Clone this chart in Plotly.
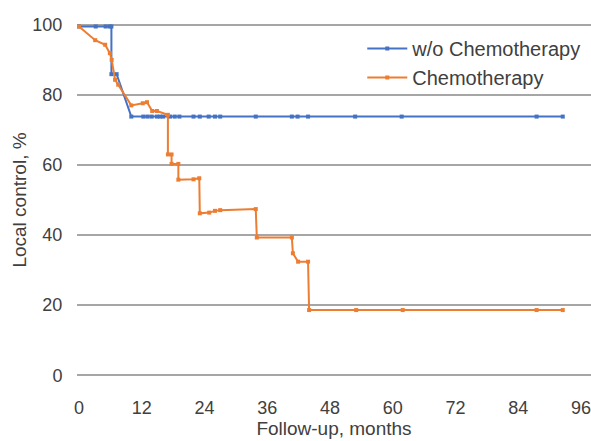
import plotly.graph_objects as go

# Follow-up (months) and local control (%)
wo_months = [0, 3.2, 5.1, 5.9, 6.2, 6.2, 7.2, 10.0, 12.3, 13.1, 13.9, 14.9, 15.5, 16.1,
             17.4, 18.3, 19.2, 21.9, 23.1, 24.8, 26.0, 27.0, 33.8, 40.7, 41.8, 43.8,
             52.8, 61.7, 87.5, 92.5]
wo_lc = [99.5, 99.5, 99.5, 99.5, 99.5, 85.9, 85.9, 73.8, 73.8, 73.8, 73.8, 73.8, 73.8, 73.8,
         73.8, 73.8, 73.8, 73.8, 73.8, 73.8, 73.8, 73.8, 73.8, 73.8, 73.8, 73.8,
         73.8, 73.8, 73.8, 73.8]

ch_months = [0, 3.1, 5.0, 5.9, 6.25, 6.9, 7.5, 10.0, 12.2, 13.0, 14.0, 14.9, 17.0, 17.0,
             17.7, 17.7, 19.0, 19.0, 21.9, 23.0, 23.1, 24.9, 26.0, 27.0, 33.8, 34.0,
             40.7, 40.9, 41.9, 43.8, 44.0, 53.0, 61.9, 87.5, 92.5]
ch_lc = [99.5, 95.6, 94.3, 91.9, 90.0, 84.3, 82.9, 77.0, 77.6, 77.9, 75.4, 75.4, 74.3, 63.0,
         63.0, 60.3, 60.3, 55.8, 55.9, 56.2, 46.2, 46.4, 46.9, 47.1, 47.4, 39.3,
         39.3, 34.8, 32.4, 32.4, 18.6, 18.6, 18.6, 18.6, 18.6]

x_ticks = [0, 12, 24, 36, 48, 60, 72, 84, 96]
y_ticks = [0, 20, 40, 60, 80, 100]

BLUE = "#4472C4"
ORANGE = "#ED7D31"
TXT = "#404040"
GRID = "#A6A6A6"
FONT = "Liberation Sans, Arial, sans-serif"

fig = go.Figure()
fig.add_trace(go.Scatter(x=wo_months, y=wo_lc, mode="lines+markers", name="w/o Chemotherapy",
                         line=dict(color=BLUE, width=2),
                         marker=dict(symbol="square", size=4, color=BLUE)))
fig.add_trace(go.Scatter(x=ch_months, y=ch_lc, mode="lines+markers", name="Chemotherapy",
                         line=dict(color=ORANGE, width=2),
                         marker=dict(symbol="square", size=4, color=ORANGE)))

fig.update_layout(
    template="none",
    width=591, height=441,
    margin=dict(l=77, r=0, t=23, b=64),
    paper_bgcolor="white", plot_bgcolor="white",
    font=dict(family=FONT, size=18, color=TXT),
    legend=dict(x=0.555, y=0.983, xanchor="left", yanchor="top",
                bgcolor="rgba(0,0,0,0)", font=dict(size=20, color=TXT),
                itemwidth=40, tracegroupgap=0, borderwidth=0),
    showlegend=True,
)
fig.update_xaxes(range=[-0.38, 97.9], tickvals=x_ticks, ticktext=[str(v) for v in x_ticks],
                 showgrid=False, zeroline=False, showline=False, ticklabeloverflow="allow",
                 ticks="outside", ticklen=14, tickcolor="rgba(0,0,0,0)",
                 tickfont=dict(size=18, color=TXT),
                 title=dict(text="Follow-up, months", standoff=2, font=dict(size=19, color=TXT)))
fig.update_yaxes(range=[-0.5, 100.5], tickvals=y_ticks, ticktext=[str(v) for v in y_ticks],
                 showgrid=True, gridcolor=GRID, gridwidth=2, zeroline=False, showline=False,
                 ticks="outside", ticklen=10, tickcolor="rgba(0,0,0,0)",
                 tickfont=dict(size=18, color=TXT),
                 title=dict(text="Local control, %", standoff=0, font=dict(size=19, color=TXT)))

fig.write_html("out.html")
